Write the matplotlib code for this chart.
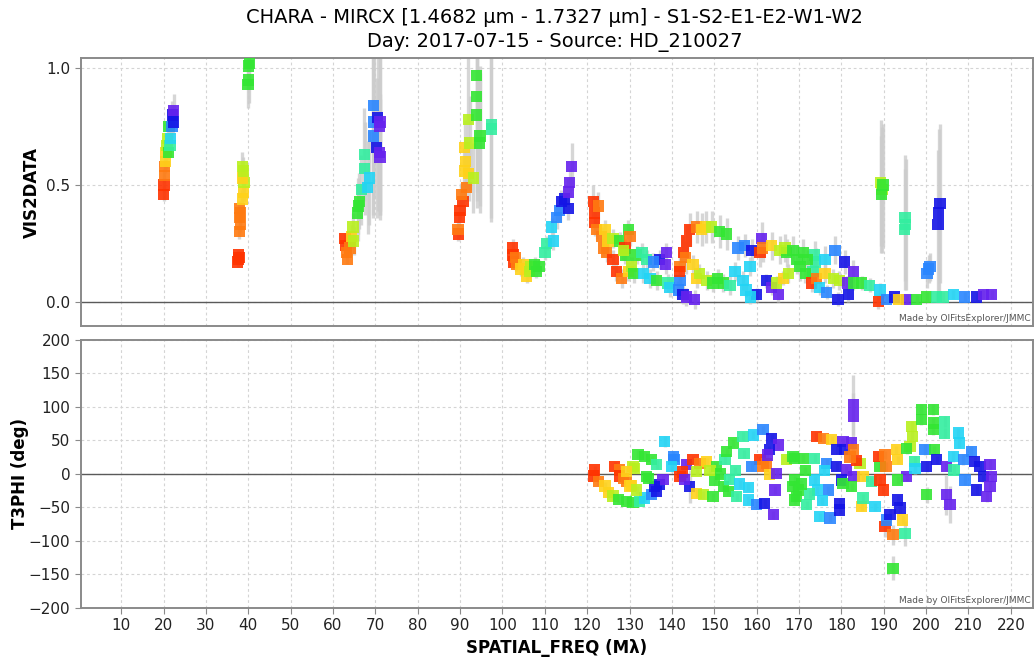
import numpy as np
import matplotlib
matplotlib.use("Agg")
import matplotlib.pyplot as plt
from matplotlib.colors import ListedColormap
from matplotlib.ticker import MultipleLocator

# colour per spectral channel (0 = longest wavelength / red ... 9 = violet)
channel_colors = ["#ff3300", "#ff7a10", "#ffd21a", "#b8f01e", "#33e633",
                  "#33eea0", "#22d4f5", "#2a86ff", "#1414e6", "#6622ee"]

title_lines = ["CHARA - MIRCX [1.4682 µm - 1.7327 µm] - S1-S2-E1-E2-W1-W2",
               "Day: 2017-07-15 - Source: HD_210027"]

# ---- VIS2DATA vs spatial frequency ----
vis_x = [
    # ~20 Mlambda
    20.0, 20.1, 20.2, 20.3, 20.5, 20.6, 20.8, 21.0, 21.1, 21.3, 21.5, 21.7, 22.0, 22.1, 22.3, 22.4,
    # ~38-40
    37.5, 37.7, 37.6, 37.8, 37.9, 38.1, 38.0, 38.2, 37.9, 38.6, 38.9, 39.0, 38.7, 38.8, 38.6, 39.9, 40.1, 40.0, 40.2,
    # ~63-71
    62.8, 62.9, 63.2, 63.4, 64.0, 64.4, 64.7, 64.9, 65.8, 66.0, 66.2, 66.7, 67.5,
    67.4, 68.2, 68.6, 69.5, 69.5, 69.6, 70.3, 70.5, 71.0, 71.1, 71.1, 71.0,
    # ~90-97
    89.6, 89.5, 89.8, 90.0, 90.7, 90.3, 91.5, 91.0, 91.3, 92.0, 93.1,
    91.1, 92.3, 91.9, 94.6, 94.7, 93.9, 93.9, 93.9, 97.4, 97.4,
    # ~102-116
    102.4, 102.5, 102.6, 103.3, 103.0, 104.4, 104.9, 105.7, 106.3, 106.6, 107.6, 108.0, 108.6,
    110.0, 110.4, 111.6, 112.0, 112.8, 113.5, 113.9, 114.7, 115.5, 115.5, 115.9, 116.3,
    # ~121-146
    121.4, 121.8, 122.6, 121.8, 122.2, 123.4, 123.8, 124.2, 124.9, 124.6,
    126.1, 127.7, 129.7, 130.1, 126.9, 128.1, 129.7, 130.5, 128.9, 126.1,
    129.0, 128.5, 131.0, 131.7, 132.9, 134.0, 133.2, 134.8, 136.4, 137.1,
    138.7, 138.5, 135.6, 139.1, 139.5, 141.5, 142.6, 143.4, 145.4, 141.9,
    # ~142-167
    144.2, 143.5, 142.7, 143.2, 141.9, 141.8, 145.8, 147.0, 148.0, 149.4,
    151.3, 152.9, 145.8, 146.5, 145.0, 148.2, 149.7, 150.8, 152.1, 153.7,
    154.9, 156.8, 155.6, 157.2, 158.8, 158.4, 161.2, 160.8, 161.4, 163.5,
    165.5, 167.1, 162.3, 163.5, 165.1, 160.0, 164.7, 166.3, 157.5, 158.5,
    # ~166-216
    166.7, 168.6, 171.0, 170.2, 169.5, 173.7, 173.9, 173.3, 176.1, 178.5,
    180.8, 182.8, 167.5, 171.5, 172.0, 173.0, 174.1, 176.1, 178.1, 179.5,
    174.9, 176.5, 179.2, 181.6, 181.4, 182.8, 184.8, 186.7, 189.1, 188.7,
    190.7, 192.6, 195.4, 193.5, 197.8, 200.1, 202.5, 204.0, 206.4, 209.1,
    211.9, 213.5, 215.5,
    # isolated noisy points
    189.3, 189.6, 189.4, 189.8, 195.0, 195.2, 194.9, 200.2, 200.6, 200.9, 203.3, 203.0, 202.8,
]
vis_y = [
    0.46, 0.50, 0.54, 0.58, 0.60, 0.64, 0.67, 0.70, 0.64, 0.75, 0.67, 0.70, 0.75, 0.80, 0.77, 0.82,
    0.17, 0.18, 0.20, 0.19, 0.30, 0.33, 0.36, 0.38, 0.40, 0.44, 0.47, 0.51, 0.53, 0.56, 0.58, 0.93, 0.95, 1.01, 1.02,
    0.27, 0.24, 0.21, 0.18, 0.23, 0.28, 0.32, 0.26, 0.38, 0.41, 0.43, 0.48, 0.57,
    0.63, 0.49, 0.53, 0.71, 0.77, 0.84, 0.66, 0.79, 0.75, 0.77, 0.62, 0.64,
    0.29, 0.31, 0.36, 0.39, 0.43, 0.46, 0.49, 0.56, 0.60, 0.55, 0.53,
    0.66, 0.68, 0.78, 0.68, 0.71, 0.80, 0.88, 0.97, 0.74, 0.76,
    0.23, 0.20, 0.17, 0.16, 0.19, 0.14, 0.16, 0.11, 0.13, 0.15, 0.16, 0.13, 0.15,
    0.21, 0.25, 0.32, 0.26, 0.36, 0.39, 0.43, 0.44, 0.40, 0.47, 0.51, 0.58,
    0.43, 0.38, 0.41, 0.34, 0.31, 0.28, 0.23, 0.31, 0.26, 0.21,
    0.27, 0.26, 0.31, 0.28, 0.13, 0.10, 0.13, 0.15, 0.23, 0.18,
    0.20, 0.22, 0.12, 0.20, 0.21, 0.18, 0.12, 0.10, 0.09, 0.18,
    0.21, 0.16, 0.17, 0.08, 0.06, 0.05, 0.03, 0.02, 0.01, 0.09,
    0.31, 0.26, 0.21, 0.19, 0.15, 0.13, 0.32, 0.31, 0.32, 0.32,
    0.30, 0.29, 0.10, 0.12, 0.16, 0.09, 0.08, 0.10, 0.08, 0.07,
    0.13, 0.09, 0.23, 0.24, 0.22, 0.15, 0.27, 0.21, 0.23, 0.24,
    0.22, 0.21, 0.09, 0.06, 0.03, 0.03, 0.08, 0.10, 0.05, 0.02,
    0.23, 0.22, 0.21, 0.15, 0.18, 0.20, 0.17, 0.13, 0.18, 0.22,
    0.17, 0.13, 0.12, 0.12, 0.18, 0.08, 0.10, 0.12, 0.10, 0.09,
    0.06, 0.04, 0.01, 0.03, 0.08, 0.08, 0.08, 0.07, 0.05, 0.00,
    0.01, 0.02, 0.01, 0.01, 0.01, 0.02, 0.02, 0.02, 0.03, 0.02,
    0.02, 0.03, 0.03,
    0.51, 0.48, 0.46, 0.50, 0.36, 0.33, 0.31, 0.12, 0.14, 0.15, 0.42, 0.38, 0.33,
]
vis_ch = [
    0, 0, 1, 1, 2, 2, 3, 3, 4, 4, 5, 6, 7, 8, 8, 9,
    0, 0, 0, 0, 1, 1, 1, 1, 1, 2, 2, 3, 2, 3, 3, 4, 4, 4, 4,
    0, 0, 1, 1, 1, 2, 3, 3, 4, 4, 4, 5, 5,
    5, 6, 6, 7, 7, 7, 8, 8, 9, 9, 9, 9,
    0, 1, 0, 0, 0, 1, 1, 2, 2, 2, 3,
    2, 3, 3, 4, 4, 4, 4, 4, 5, 5,
    0, 0, 0, 1, 1, 2, 2, 2, 3, 3, 4, 4, 4,
    5, 5, 6, 6, 7, 7, 8, 8, 8, 9, 9, 9,
    0, 0, 1, 0, 1, 1, 1, 2, 2, 1,
    3, 4, 4, 1, 0, 1, 2, 3, 0, 0,
    4, 3, 4, 4, 5, 5, 6, 6, 4, 8,
    9, 9, 7, 5, 6, 7, 8, 9, 9, 7,
    0, 0, 0, 1, 1, 0, 1, 2, 2, 3,
    4, 4, 2, 3, 2, 3, 4, 4, 4, 5,
    6, 6, 7, 7, 8, 6, 9, 0, 1, 2,
    3, 4, 8, 9, 9, 8, 3, 2, 6, 6,
    3, 4, 4, 4, 4, 5, 5, 5, 6, 7,
    8, 9, 3, 4, 4, 0, 1, 2, 3, 3,
    6, 7, 8, 8, 9, 4, 4, 5, 6, 0,
    7, 8, 9, 2, 4, 4, 5, 5, 6, 7,
    8, 9, 9,
    3, 3, 4, 4, 5, 5, 5, 7, 7, 7, 8, 8, 8,
]
vis_err = (
    [0.03] * 12 + [0.05, 0.06, 0.05, 0.07]
    + [0.02] * 4 + [0.03] * 5 + [0.04] * 3 + [0.05, 0.06, 0.06] + [0.10] * 4
    + [0.02] * 5 + [0.05, 0.06, 0.06] + [0.12] * 3 + [0.15] + [0.2] * 4
    + [0.35, 0.4, 0.4, 0.3, 0.4, 0.4, 0.4, 0.25, 0.25]
    + [0.03, 0.03, 0.03, 0.04, 0.05, 0.05, 0.06, 0.1, 0.1, 0.12, 0.15,
       0.12, 0.2, 0.3, 0.3, 0.3, 0.4, 0.45, 0.5, 0.4, 0.4]
    + [0.04] + [0.03] * 14 + [0.04, 0.04, 0.05, 0.05, 0.05, 0.06, 0.05, 0.06, 0.06, 0.10]
    + [0.07, 0.07, 0.06, 0.06] + [0.04] * 36
    + [0.07] * 12 + [0.04] * 10 + [0.05, 0.05, 0.05, 0.04, 0.07, 0.06, 0.06, 0.06]
    + [0.06, 0.06] + [0.03] * 8
    + [0.06] * 10 + [0.05, 0.05] + [0.04] * 8 + [0.03] * 10 + [0.02] * 13
    + [0.27, 0.27, 0.25, 0.26, 0.27, 0.28, 0.26, 0.06, 0.06, 0.06, 0.34, 0.36, 0.32]
)

# ---- T3PHI vs spatial frequency ----
t3_x = [
    121.8, 121.4, 122.6, 124.2, 125.0, 126.1, 127.3, 129.3, 130.8, 132.4, 133.6, 135.2, 136.4, 137.1, 137.9, 135.9,
    126.5, 127.7, 127.7, 128.5, 129.3, 130.1, 130.5, 131.7, 130.8, 131.2, 132.0,
    133.6, 135.2, 136.4, 134.0, 134.4, 129.3, 138.3, 140.3, 140.5, 139.9,
    143.4, 141.9, 142.5, 145.0, 146.6, 148.2, 144.2, 143.0, 145.8, 145.8,
    147.4, 149.7, 150.5, 150.1, 152.5, 152.9, 154.5, 156.8, 159.2, 161.5,
    163.5, 165.1, 152.1, 153.3, 155.3, 158.0, 160.0, 161.9, 163.9, 160.8,
    162.3, 161.5, 163.1, 158.8, 164.7, 164.3, 167.1, 168.6, 168.6, 169.4,
    149.0, 151.5, 153.5, 155.0, 156.0, 157.0, 158.0, 163.0, 162.5,
    169.0, 171.0, 173.7, 169.0, 169.8, 169.0, 171.8, 174.9, 177.3, 173.7,
    174.3, 176.9, 179.6, 179.6, 176.5, 174.1, 175.7, 177.7, 180.4, 180.8,
    182.4, 182.8, 182.8, 178.9, 178.9, 181.2, 180.0, 180.4, 182.8, 183.0,
    182.4, 184.4, 185.1, 184.8, 185.1, 187.9, 187.1, 189.1, 188.7, 190.3,
    190.5, 193.0, 193.3, 189.1, 189.9, 190.3, 192.2, 190.7, 191.5, 193.8,
    193.3, 195.0, 192.2, 194.5, 195.4, 193.3, 171.5, 172.5, 170.5, 175.5,
    176.0, 183.5, 182.0,
    196.2, 196.6, 196.7, 198.9, 198.9, 201.7, 201.7, 201.7, 204.4, 204.4,
    207.6, 207.8, 195.4, 197.3, 197.4, 199.7, 200.1, 200.1, 201.9, 202.5,
    204.8, 204.8, 205.6, 206.4, 206.6, 208.8, 209.2, 210.7, 211.5, 211.9,
    212.7, 213.5, 215.1, 215.5, 215.1, 214.3,
]
t3_y = [
    6, -3, -11, -18, -28, -33, -38, -41, -43, -41, -36, -31, -26, -16, -8, -19,
    11, 6, -3, -7, -11, -18, -17, -24, 11, 8, 29,
    26, 21, 14, -4, -7, 4, 48, 26, 21, 11,
    14, -4, 3, 21, 16, 18, -19, -8, 4, -29,
    -31, -34, 11, -9, 21, 33, 46, 56, 58, 66,
    53, 43, -19, -26, -34, -39, -46, -44, -61, 21,
    16, 11, -1, 11, 1, -24, 21, 26, -19, -34,
    5, 0, -8, 5, -15, 30, -20, 36, 28,
    23, 23, 23, -9, -24, -39, -46, -64, -66, -9,
    -24, -24, -44, -54, 16, 56, 53, 51, 48, 36,
    46, 103, 86, 36, 11, 6, -9, -14, 36, -4,
    -19, 16, -4, -49, -36, -49, -11, 11, 26, 28,
    11, 36, 21, -9, -24, -79, -91, -69, -61, -51,
    -39, -89, -141, -69, -4, -9, 5, -30, -15, -40,
    5, 20, 25,
    41, 71, 56, 96, 81, 96, 76, 66, 78, 61,
    61, 46, 38, 18, 8, 36, 11, -31, 36, 21,
    11, -31, -46, 26, 6, 21, -9, 33, 18, -24,
    11, -4, 14, -4, -19, -34,
]
t3_ch = [
    0, 0, 1, 2, 2, 3, 4, 4, 4, 5, 6, 7, 8, 8, 9, 8,
    0, 1, 0, 1, 1, 2, 2, 3, 3, 3, 4,
    4, 4, 5, 4, 4, 2, 6, 7, 7, 6,
    9, 0, 0, 0, 1, 2, 8, 9, 3, 2,
    3, 4, 4, 4, 5, 4, 4, 5, 6, 7,
    8, 9, 4, 4, 5, 6, 7, 8, 9, 0,
    1, 1, 2, 7, 9, 9, 3, 4, 4, 4,
    3, 4, 5, 5, 6, 5, 6, 8, 9,
    4, 4, 5, 4, 4, 4, 5, 6, 7, 6,
    6, 7, 8, 8, 7, 0, 1, 2, 9, 8,
    9, 9, 9, 8, 8, 9, 8, 4, 1, 9,
    4, 3, 2, 2, 5, 6, 5, 4, 0, 1,
    1, 2, 2, 0, 0, 0, 1, 7, 8, 8,
    8, 5, 4, 2, 9, 4, 4, 5, 4, 6,
    6, 0, 1,
    3, 3, 3, 4, 4, 4, 4, 4, 5, 5,
    6, 6, 4, 5, 6, 7, 8, 4, 4, 8,
    9, 9, 9, 6, 5, 7, 7, 7, 8, 8,
    8, 8, 9, 9, 9, 9,
]
t3_err = (
    [6] * 16 + [6] * 17 + [8] * 4
    + [6] * 6 + [25] + [6] * 42
    + [6] * 21 + [45, 35] + [6] * 17
    + [6] * 5 + [15, 15] + [8] * 4 + [18, 18] + [6] * 10
    + [8] * 17 + [12] + [6] * 3 + [30, 28] + [8] * 13
)

assert len(vis_x) == len(vis_y) == len(vis_ch) == len(vis_err)
assert len(t3_x) == len(t3_y) == len(t3_ch) == len(t3_err)

chan_cmap = ListedColormap(channel_colors)
spine_col = "#8a8a8a"


def draw_panel(ax, x, y, ch, err):
    ax.errorbar(x, y, yerr=err, fmt="none", ecolor="#cccccc", elinewidth=2.4,
                alpha=0.8, zorder=2)
    ax.scatter(x, y, c=ch, cmap=chan_cmap, vmin=-0.5, vmax=9.5, marker="s",
               s=66, alpha=0.9, linewidths=0, zorder=3)
    ax.axhline(0, color="#5a5a5a", lw=1.0, zorder=1)
    ax.grid(True, color="#d4d4d4", lw=0.8, ls=(0, (2.5, 2.5)))
    ax.set_axisbelow(True)
    ax.set_xlim(0.46, 225.2)
    ax.xaxis.set_major_locator(MultipleLocator(10))
    for sp in ax.spines.values():
        sp.set_color(spine_col)
        sp.set_linewidth(1.4)
    ax.tick_params(colors="#222222", labelsize=11, length=4, color=spine_col)
    ax.text(0.998, 0.012, "Made by OIFitsExplorer/JMMC", transform=ax.transAxes,
            ha="right", va="bottom", fontsize=6.5, color="#555555")


fig = plt.figure(figsize=(10.36, 6.6), dpi=100)
ax1 = fig.add_axes([0.078, 0.506, 0.919, 0.406])
ax2 = fig.add_axes([0.078, 0.079, 0.919, 0.406])

draw_panel(ax1, vis_x, vis_y, vis_ch, vis_err)
ax1.set_ylim(-0.104, 1.044)
ax1.set_yticks([0.0, 0.5, 1.0])
ax1.set_yticklabels(["0.0", "0.5", "1.0"])
ax1.tick_params(axis="x", labelbottom=False, length=0)
ax1.set_ylabel("VIS2DATA", fontsize=12, fontweight="bold", labelpad=4)

draw_panel(ax2, t3_x, t3_y, t3_ch, t3_err)
ax2.set_ylim(-200, 200)
ax2.yaxis.set_major_locator(MultipleLocator(50))
ax2.set_ylabel("T3PHI (deg)", fontsize=12, fontweight="bold", labelpad=0)
ax2.set_xlabel("SPATIAL_FREQ (Mλ)", fontsize=12, fontweight="bold", labelpad=4)

fig.text(0.535, 0.974, title_lines[0], ha="center", va="center", fontsize=14)
fig.text(0.535, 0.936, title_lines[1], ha="center", va="center", fontsize=14)

fig.savefig("out.png", dpi=100)
